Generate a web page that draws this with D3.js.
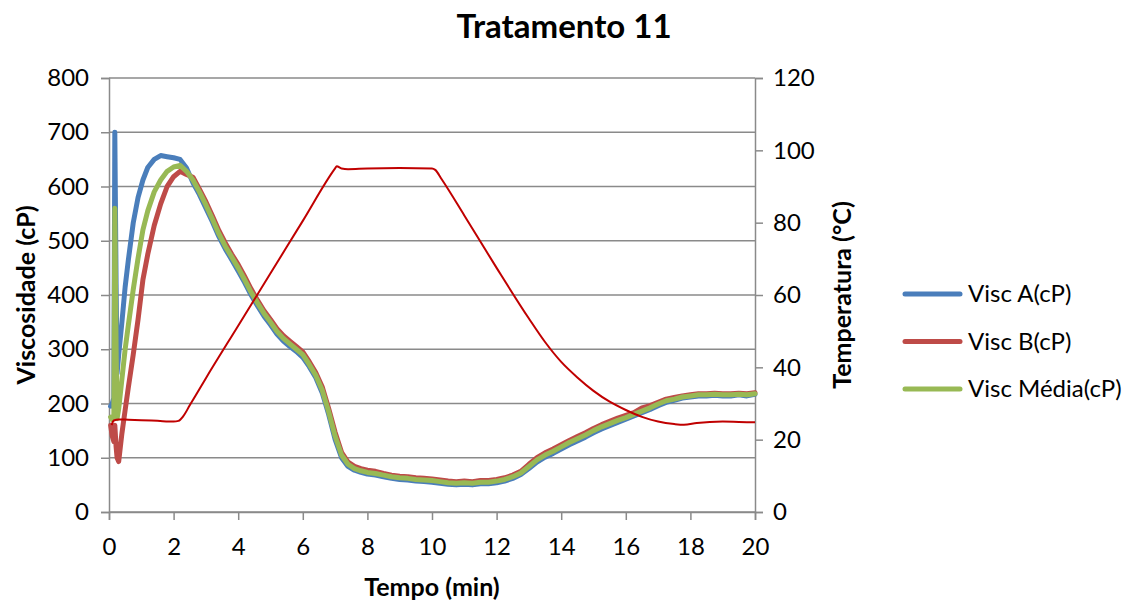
<!DOCTYPE html>
<html>
<head>
<meta charset="utf-8">
<script src="https://cdn.jsdelivr.net/npm/d3@7"></script>
<style>
  body { margin: 0; background: #fff; }
  text { font-family: Lato, "Open Sans", sans-serif; fill: #000; }
</style>
</head>
<body>
<div id="chart"></div>
<script>
// tempo (min) for the viscosity readings
var tempo = [0.05,0.1,0.15,0.18,0.22,0.25,0.3,0.4,0.5,0.6,0.75,0.9,1.05,1.2,1.4,1.6,1.8,2.0,2.2,2.4,
  2.6,2.8,3.0,3.2,3.4,3.6,3.8,4.0,4.2,4.4,4.6,4.8,5.0,5.2,5.4,5.6,5.8,6.0,6.2,6.4,6.6,6.8,7.0,7.2,7.4,7.6,7.8,8.0,
  8.25,8.5,8.75,9.0,9.25,9.5,9.75,10.0,10.25,10.5,10.75,11.0,11.25,11.5,11.75,12.0,12.25,12.5,12.75,13.0,13.25,13.5,13.75,
  14.0,14.25,14.5,14.75,15.0,15.25,15.5,15.75,16.0,16.25,16.5,16.75,17.0,17.25,17.5,17.75,18.0,18.25,18.5,18.75,19.0,19.25,19.5,19.75,20.0];

var viscA = [195,200,210,700,420,255,290,350,415,465,533,580,612,635,650,657,655,653,650,634,
  607,585,560,535,508,485,465,444,423,400,380,361,345,328,315,305,296,285,268,248,220,180,134,100,84,77,73,70,
  68,65,62,60,59,57,56,55,53,51,50,51,50,52,52,54,57,62,69,80,92,101,108,
  116,124,131,138,146,153,159,165,171,177,183,189,196,202,206,210,212,214,214,215,214,214,216,214,217];

var viscB = [160,140,130,160,120,100,93,145,188,230,290,355,428,475,528,568,600,618,628,622,
  617,595,572,546,519,496,475,456,434,411,390,371,355,338,325,315,305,295,277,257,231,191,147,110,92,84,80,77,
  75,71,68,66,65,63,62,61,59,57,56,57,56,58,58,60,63,68,75,88,100,109,116,
  124,132,139,146,154,161,167,173,178,183,192,196,202,208,211,214,216,218,218,219,218,218,219,218,220];

var viscMedia = [175,170,175,560,300,172,190,245,300,345,410,468,520,555,590,612,628,636,639,628,
  612,590,566,540,513,490,470,450,428,405,385,366,350,333,320,310,300,290,272,252,225,185,140,105,88,80,76,73,
  71,68,65,63,62,60,59,58,56,54,53,54,53,55,55,57,60,65,72,84,96,105,112,
  120,128,135,142,150,157,163,169,174,180,186,192,199,205,208,212,214,216,216,217,216,216,217,216,218];

// temperatura (°C)
var tempoT = [0.08,0.15,0.3,0.6,1.0,1.5,2.0,2.15,2.3,2.5,3.0,4.0,5.0,6.0,7.0,7.05,7.2,7.4,8.0,9.0,10.0,10.1,10.3,
  11.0,12.0,13.0,13.5,14.0,14.5,15.0,15.5,16.0,16.5,17.0,17.5,17.8,18.2,18.6,19.0,19.5,20.0];
var temperatura = [24,25.3,25.6,25.5,25.4,25.2,25.0,25.2,26.5,29.5,37,51.5,66,80.5,95,95.6,95.0,94.8,95.0,95.1,95.0,94.6,92,
  82,67.5,53.5,47,41.5,37.2,33.5,30.5,28.2,26.3,25.0,24.3,24.1,24.6,24.9,25.0,24.9,24.8];

var xTicks = [0,2,4,6,8,10,12,14,16,18,20];
var yTicks = [0,100,200,300,400,500,600,700,800];
var y2Ticks = [0,20,40,60,80,100,120];

var serieNomes = ["Visc A(cP)", "Visc B(cP)", "Visc Média(cP)"];
var serieCores = ["#4a7ebb", "#be4b48", "#98b954"];
var series = [viscA, viscB, viscMedia];

var svgWidth = 1139, svgHeight = 605;
var margin = { top: 78, right: 384, bottom: 93, left: 109 };
var width = svgWidth - margin.left - margin.right;
var height = svgHeight - margin.top - margin.bottom;

var svg = d3.select("#chart").append("svg")
  .attr("width", svgWidth)
  .attr("height", svgHeight);

var chartGroup = svg.append("g")
  .attr("transform", `translate(${margin.left}, ${margin.top})`);

var x = d3.scaleLinear().domain([0, 20]).range([0, width]);
var y = d3.scaleLinear().domain([0, 800]).range([height, 0]);
var y2 = d3.scaleLinear().domain([0, 120]).range([height, 0]);

// gridlines
chartGroup.selectAll(".grid")
  .data(yTicks)
  .enter()
  .append("line")
  .attr("x1", 0).attr("x2", width)
  .attr("y1", d => y(d)).attr("y2", d => y(d))
  .attr("stroke", "#8a8a8a")
  .attr("stroke-width", 1.5);

function styleAxis(g) {
  g.selectAll("path, line").attr("stroke", "#8a8a8a").attr("stroke-width", 1.5);
  g.selectAll("text").attr("font-size", "24px").attr("font-family", "Lato, sans-serif").attr("fill", "#000");
}

chartGroup.append("g")
  .attr("transform", `translate(0, ${height})`)
  .call(d3.axisBottom(x).tickValues(xTicks).tickSize(8).tickSizeOuter(8).tickPadding(18))
  .call(styleAxis);

chartGroup.append("g")
  .call(d3.axisLeft(y).tickValues(yTicks).tickSize(8).tickSizeOuter(8).tickPadding(12))
  .call(styleAxis);

chartGroup.append("g")
  .attr("transform", `translate(${width}, 0)`)
  .call(d3.axisRight(y2).tickValues(y2Ticks).tickSize(8).tickSizeOuter(8).tickPadding(10))
  .call(styleAxis);

// viscosity lines
var line = d3.line()
  .x((d, i) => x(tempo[i]))
  .y(d => y(d));

series.forEach(function(s, k) {
  chartGroup.append("path")
    .datum(s)
    .attr("fill", "none")
    .attr("stroke", serieCores[k])
    .attr("stroke-width", 5)
    .attr("stroke-linejoin", "round")
    .attr("stroke-linecap", "round")
    .attr("d", line);
});

// temperature line
var lineT = d3.line()
  .x((d, i) => x(tempoT[i]))
  .y(d => y2(d))
  .curve(d3.curveMonotoneX);

chartGroup.append("path")
  .datum(temperatura)
  .attr("fill", "none")
  .attr("stroke", "#c00000")
  .attr("stroke-width", 2)
  .attr("d", lineT);

// titles
svg.append("text")
  .attr("x", 564).attr("y", 38)
  .attr("text-anchor", "middle")
  .attr("font-size", "33px").attr("font-weight", "bold")
  .text("Tratamento 11");

svg.append("text")
  .attr("x", margin.left + width / 2).attr("y", 596)
  .attr("text-anchor", "middle")
  .attr("font-size", "25px").attr("font-weight", "bold")
  .text("Tempo (min)");

svg.append("text")
  .attr("transform", `translate(35, ${margin.top + height / 2}) rotate(-90)`)
  .attr("text-anchor", "middle")
  .attr("font-size", "25px").attr("font-weight", "bold")
  .text("Viscosidade (cP)");

svg.append("text")
  .attr("transform", `translate(851, ${margin.top + height / 2}) rotate(-90)`)
  .attr("text-anchor", "middle")
  .attr("font-size", "25px").attr("font-weight", "bold")
  .text("Temperatura (°C)");

// legend
var legend = svg.append("g").attr("transform", "translate(905, 294)");
serieNomes.forEach(function(nome, k) {
  var g = legend.append("g").attr("transform", `translate(0, ${k * 47.5})`);
  g.append("line")
    .attr("x1", 0).attr("x2", 55)
    .attr("stroke", serieCores[k])
    .attr("stroke-width", 5)
    .attr("stroke-linecap", "round");
  g.append("text")
    .attr("x", 63).attr("y", 8)
    .attr("font-size", "24px")
    .text(nome);
});
</script>
</body>
</html>
